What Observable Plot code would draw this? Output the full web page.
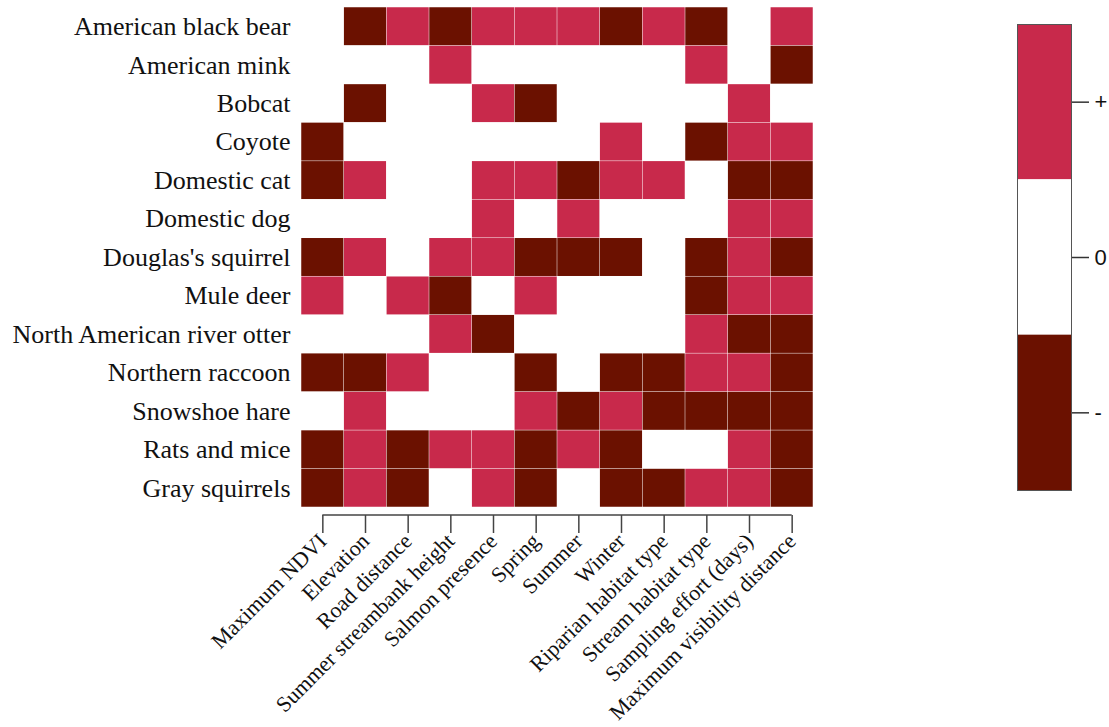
<!DOCTYPE html>
<html><head><meta charset="utf-8">
<script src="https://cdn.jsdelivr.net/npm/d3@7"></script>
<script src="https://cdn.jsdelivr.net/npm/@observablehq/plot@0.6"></script>
<style>
body{margin:0;background:#fff;}
#wrap{position:relative;width:1109px;height:727px;overflow:hidden;}
#main{position:absolute;left:0;top:0;}
#legend{position:absolute;left:990px;top:0;}
</style>
</head><body><div id="wrap"><div id="main"></div><div id="legend"></div></div>
<script>
const species = ["American black bear","American mink","Bobcat","Coyote","Domestic cat","Domestic dog",
  "Douglas's squirrel","Mule deer","North American river otter","Northern raccoon","Snowshoe hare",
  "Rats and mice","Gray squirrels"];
const covariates = ["Maximum NDVI","Elevation","Road distance","Summer streambank height","Salmon presence",
  "Spring","Summer","Winter","Riparian habitat type","Stream habitat type","Sampling effort (days)",
  "Maximum visibility distance"];
// +1 positive, 0 none, -1 negative
const effects = [
  [ 0,-1, 1,-1, 1, 1, 1,-1, 1,-1, 0, 1],
  [ 0, 0, 0, 1, 0, 0, 0, 0, 0, 1, 0,-1],
  [ 0,-1, 0, 0, 1,-1, 0, 0, 0, 0, 1, 0],
  [-1, 0, 0, 0, 0, 0, 0, 1, 0,-1, 1, 1],
  [-1, 1, 0, 0, 1, 1,-1, 1, 1, 0,-1,-1],
  [ 0, 0, 0, 0, 1, 0, 1, 0, 0, 0, 1, 1],
  [-1, 1, 0, 1, 1,-1,-1,-1, 0,-1, 1,-1],
  [ 1, 0, 1,-1, 0, 1, 0, 0, 0,-1, 1, 1],
  [ 0, 0, 0, 1,-1, 0, 0, 0, 0, 1,-1,-1],
  [-1,-1, 1, 0, 0,-1, 0,-1,-1, 1, 1,-1],
  [ 0, 1, 0, 0, 0, 1,-1, 1,-1,-1,-1,-1],
  [-1, 1,-1, 1, 1,-1, 1,-1, 0, 0, 1,-1],
  [-1, 1,-1, 0, 1,-1, 0,-1,-1, 1, 1,-1]
];
const legendLabels = ["+","0","-"];
const legendValues = [1,0,-1];
const effectDomain = [-1,0,1];
const effectColors = ["#6B1100","#FFFFFF","#C8294B"];

const cells = [];
species.forEach((s,i)=>covariates.forEach((c,j)=>cells.push({species:s,covariate:c,effect:effects[i][j]})));

function axisLine(index, scales, values, dims) {
  const x = scales.x;
  const bw = typeof x.bandwidth === "function" ? x.bandwidth() : (x.bandwidth ?? 0);
  const x1 = x(covariates[0]) + bw/2, x2 = x(covariates[covariates.length-1]) + bw/2;
  const yy = dims.height - dims.marginBottom;
  const g = d3.create("svg:line")
    .attr("x1", x1).attr("x2", x2).attr("y1", yy).attr("y2", yy)
    .attr("stroke", "#444").attr("stroke-width", 1.5);
  return g.node();
}

const main = Plot.plot({
  width: 840, height: 727,
  marginLeft: 301, marginRight: 27, marginTop: 7, marginBottom: 212,
  style: {fontFamily: "'Liberation Serif','Times New Roman',serif", background: "white", overflow: "visible", color: "#111"},
  x: {domain: covariates, padding: 0, round: false, label: null},
  y: {domain: species, padding: 0, round: false, label: null, insetBottom: 8},
  color: {type: "ordinal", domain: effectDomain, range: effectColors},
  marks: [
    Plot.cell(cells, {x: "covariate", y: "species", fill: "effect", inset: 0.25}),
    Plot.axisY({tickSize: 0, tickPadding: 11, fontSize: 26, fill: "#111", label: null}),
    Plot.axisX({tickSize: 18, tickRotate: -45, tickPadding: 4, fontSize: 22, stroke: "#444", strokeWidth: 1.5, fill: "#111", label: null}),
    axisLine
  ]
});
document.getElementById("main").append(main);

const legendData = legendLabels.map((l,i)=>({label:l, value:legendValues[i]}));
const legend = Plot.plot({
  width: 119, height: 500,
  marginLeft: 27, marginRight: 38, marginTop: 24, marginBottom: 10,
  style: {fontFamily: "Arial, 'Liberation Sans', sans-serif", background: "white", overflow: "visible", color: "#111"},
  y: {domain: legendLabels, padding: 0, round: false, label: null},
  color: {type: "ordinal", domain: effectDomain, range: effectColors},
  marks: [
    Plot.cell(legendData, {y: "label", fill: "value"}),
    Plot.frame({stroke: "#555", strokeWidth: 1}),
    Plot.axisY({anchor: "right", tickSize: 17, tickPadding: 6, fontSize: 22, stroke: "#333", strokeWidth: 1.5, fill: "#111", label: null})
  ]
});
document.getElementById("legend").append(legend);
</script>
</body></html>
